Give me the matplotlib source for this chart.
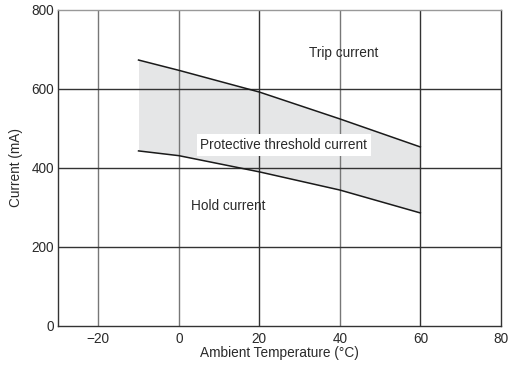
import matplotlib
matplotlib.use("Agg")
import matplotlib.pyplot as plt
import numpy as np

temps = [-10, 0, 20, 40, 60]
trip_current = [673, 647, 592, 524, 453]
hold_current = [443, 431, 390, 344, 286]

x_ticks = [-20, 0, 20, 40, 60, 80]
y_ticks = [0, 200, 400, 600, 800]

plt.rcParams['font.family'] = ['Liberation Sans', 'DejaVu Sans']

fs = 9.8
tc = '#2a2a2a'

fig = plt.figure(figsize=(5.09, 3.65), dpi=100)
ax = fig.add_axes([0.114, 0.107, 0.870, 0.866])

ax.fill_between(temps, hold_current, trip_current, color='#e5e6e7', zorder=1, linewidth=0)

for xv in x_ticks[:-1]:
    c = '#333333' if xv in (20, 60) else '#777777'
    ax.axvline(xv, color=c, linewidth=1.0, zorder=2)
for yv in y_ticks[1:-1]:
    ax.axhline(yv, color='#333333', linewidth=1.0, zorder=2)

ax.plot(temps, trip_current, color='#1a1a1a', linewidth=1.1, zorder=3)
ax.plot(temps, hold_current, color='#1a1a1a', linewidth=1.1, zorder=3)

ax.set_xlim(-30, 80)
ax.set_ylim(0, 800)
ax.set_xticks(x_ticks)
ax.set_xticklabels(['\u221220', '0', '20', '40', '60', '80'])
ax.set_yticks(y_ticks)
ax.tick_params(axis='x', length=0, labelsize=fs, pad=4, colors=tc)
ax.tick_params(axis='y', length=0, labelsize=fs, pad=3, colors=tc)

for side in ('left', 'bottom', 'right'):
    ax.spines[side].set_color('#333333')
    ax.spines[side].set_linewidth(1.0)
ax.spines['top'].set_color('#999999')
ax.spines['top'].set_linewidth(1.0)

ax.set_xlabel('Ambient Temperature (\u00b0C)', fontsize=fs, labelpad=0.5, color=tc)
ax.set_ylabel('Current (mA)', fontsize=fs, labelpad=6, color=tc)

ax.text(41, 691, 'Trip current', fontsize=fs, ha='center', va='center', color=tc, zorder=4)
ax.text(26.1, 458, 'Protective threshold current', fontsize=fs, ha='center', va='center',
        color=tc, zorder=4,
        bbox=dict(facecolor='white', edgecolor='none', pad=2.5))
ax.text(12.2, 304, 'Hold current', fontsize=fs, ha='center', va='center', color=tc, zorder=4)

fig.savefig('out.png', dpi=100)
